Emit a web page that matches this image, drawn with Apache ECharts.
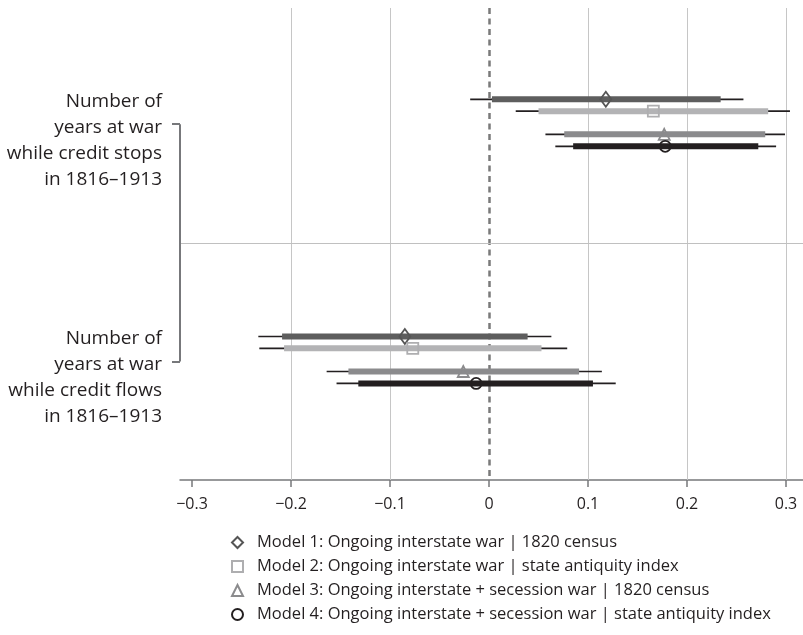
<!DOCTYPE html>
<html>
<head>
<meta charset="utf-8">
<script src="https://cdn.jsdelivr.net/npm/echarts@6/dist/echarts.min.js"></script>
<style>
  html, body { margin: 0; padding: 0; background: #fff; }
  #chart { width: 803px; height: 635px; }
</style>
</head>
<body>
<div id="chart"></div>
<script>
// ---------------- data ----------------
const xTicks = [-0.3, -0.2, -0.1, 0, 0.1, 0.2, 0.3];
const groupLabels = [
  'Number of\nyears at war\nwhile credit stops\nin 1816–1913',
  'Number of\nyears at war\nwhile credit flows\nin 1816–1913'
];
const modelNames = [
  'Model 1: Ongoing interstate war | 1820 census',
  'Model 2: Ongoing interstate war | state antiquity index',
  'Model 3: Ongoing interstate + secession war | 1820 census',
  'Model 4: Ongoing interstate + secession war | state antiquity index'
];
// [model][group]  (group 0 = credit stops, group 1 = credit flows)
const estimate = [[0.118, -0.085], [0.166, -0.077], [0.177, -0.026], [0.178, -0.013]];
const ci90Low  = [[0.003, -0.209], [0.050, -0.207], [0.076, -0.142], [0.085, -0.132]];
const ci90High = [[0.234,  0.039], [0.282,  0.053], [0.279,  0.091], [0.272,  0.105]];
const ci95Low  = [[-0.019, -0.233], [0.027, -0.232], [0.057, -0.164], [0.067, -0.154]];
const ci95High = [[0.257,  0.063], [0.304,  0.079], [0.299,  0.114], [0.290,  0.128]];

// ---------------- layout / style ----------------
const FONT = '"Open Sans", "Noto Sans", sans-serif';
const INK = '#231f20';
const GROUP_GAP = 20;                       // y-units between the two groups
const rowOffset = [-2.1, -1.1, 0.85, 1.86]; // y-units within a group
const Y_MIN = -9.8, Y_MAX = 30;
const X_MIN = -0.31212, X_MAX = 0.31717;
const barColors = ['#5e5e5e', '#b3b3b5', '#8b8b8d', '#231f20'];
const markColors = ['#555555', '#aeaeb0', '#8b8b8d', '#231f20'];
const symbols = ['diamond', 'rect', 'triangle', 'circle'];
const symbolSizes = [[11, 15], 11, 11, 11];
const groupPos = groupLabels.map((_, g) => g * GROUP_GAP);

const ciData = [];
modelNames.forEach((_, m) => {
  groupLabels.forEach((_, g) => {
    ciData.push([ci95Low[m][g], ci90Low[m][g], estimate[m][g], ci90High[m][g], ci95High[m][g],
                 groupPos[g] + rowOffset[m], m]);
  });
});

const fmt = v => {
  if (Math.abs(v) < 1e-9) return '0';
  const s = (Math.round(v * 10) / 10).toString();
  return s.replace('-', '\u2212');
};

const gridMarks = xTicks.filter(v => v !== 0 && v !== xTicks[0]).map(v => ({ xAxis: v }));

const series = [
  {
    type: 'line', data: [], silent: true, z: 1, clip: false,
    markLine: {
      silent: true, symbol: 'none', label: { show: false }, animation: false,
      data: [
        ...gridMarks.map(d => ({ ...d, lineStyle: { color: '#c6c6c6', width: 1, type: 'solid' } })),
        { xAxis: 0, lineStyle: { color: '#7a7a7a', width: 2.5, type: [6, 4.5] } },
        { yAxis: (groupPos[0] + groupPos[1]) / 2, lineStyle: { color: '#c0c0c0', width: 1, type: 'solid' } },
        [
          { coord: [X_MIN, groupPos[0]], lineStyle: { color: '#77787b', width: 2, type: 'solid' } },
          { coord: [X_MIN, groupPos[1]] }
        ]
      ]
    }
  },
  {
    type: 'custom', name: 'ci', silent: true, z: 5, clip: false,
    data: ciData,
    encode: { x: [0, 1, 3, 4], y: 5 },
    renderItem: (params, api) => {
      const y = api.value(5);
      const m = api.value(6);
      const a95 = api.coord([api.value(0), y]);
      const b95 = api.coord([api.value(4), y]);
      const a90 = api.coord([api.value(1), y]);
      const b90 = api.coord([api.value(3), y]);
      return {
        type: 'group',
        children: [
          { type: 'line', shape: { x1: a95[0], y1: a95[1], x2: b95[0], y2: b95[1] },
            style: { stroke: INK, lineWidth: 1.7 } },
          { type: 'line', shape: { x1: a90[0], y1: a90[1], x2: b90[0], y2: b90[1] },
            style: { stroke: barColors[m], lineWidth: 6 } }
        ]
      };
    }
  },
  ...modelNames.map((name, m) => ({
    type: 'scatter', name, z: 10, silent: true,
    symbol: symbols[m], symbolSize: symbolSizes[m],
    itemStyle: { color: 'rgba(255,255,255,0)', borderColor: markColors[m], borderWidth: 1.8, opacity: 1 },
    data: groupLabels.map((_, g) => [estimate[m][g], groupPos[g] + rowOffset[m]])
  }))
];

const chart = echarts.init(document.getElementById('chart'), null, { renderer: 'canvas' });
chart.setOption({
  animation: false,
  backgroundColor: '#ffffff',
  grid: { left: 180, right: 0, top: 8, bottom: 155, containLabel: false },
  xAxis: {
    type: 'value', min: X_MIN, max: X_MAX,
    axisLine: { show: true, onZero: false, lineStyle: { color: '#77787b', width: 1.5 } },
    axisTick: { show: true, customValues: xTicks, length: 7, lineStyle: { color: '#77787b', width: 1.5 } },
    axisLabel: { customValues: xTicks, formatter: fmt, margin: 16,
                 fontFamily: FONT, fontSize: 16, color: INK },
    splitLine: { show: false }
  },
  yAxis: {
    type: 'value', inverse: true, min: Y_MIN, max: Y_MAX,
    axisLine: { show: false, onZero: false },
    axisTick: { show: true, customValues: groupPos, length: 8, inside: false,
                lineStyle: { color: '#77787b', width: 2 } },
    axisLabel: {
      customValues: groupPos,
      formatter: v => '{s| }\n' + (groupLabels[groupPos.indexOf(v)] || ''),
      margin: 18, align: 'right', verticalAlign: 'middle',
      fontFamily: FONT, fontSize: 19, lineHeight: 26, color: INK,
      rich: { s: { lineHeight: 32, fontSize: 19, fontFamily: FONT } }
    },
    splitLine: { show: false }
  },
  legend: {
    data: modelNames, orient: 'vertical', left: 226, top: 529, height: 106,
    itemWidth: 11, itemHeight: 11, itemGap: 7,
    textStyle: { fontFamily: FONT, fontSize: 16.5, lineHeight: 17, color: INK, padding: [0, 0, 0, 9] },
    selectedMode: false
  },
  series
});
</script>
</body>
</html>
